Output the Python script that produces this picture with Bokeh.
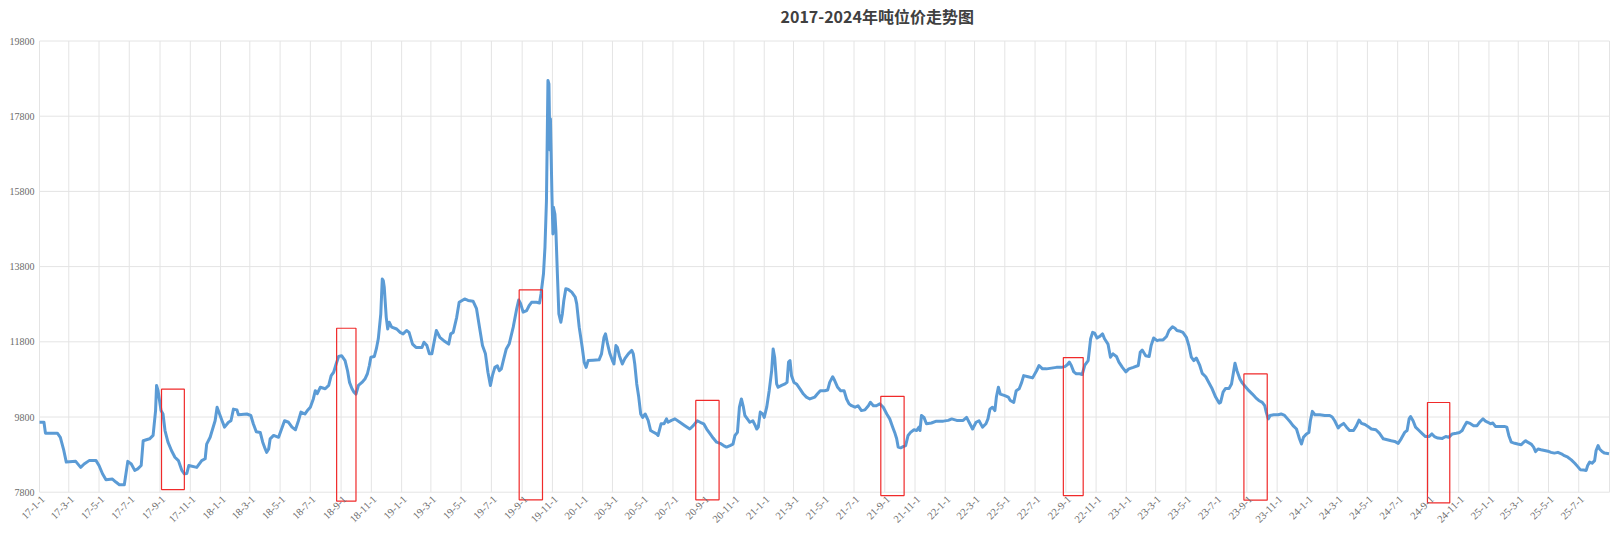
import pandas as pd
from bokeh.plotting import figure
from bokeh.models import BoxAnnotation, Range1d, LabelSet, Label, ColumnDataSource
from bokeh.embed import file_html
from bokeh.resources import INLINE

# ---------------- data ----------------
dates = [
    "2017-01-01", "2017-01-10", "2017-01-13", "2017-02-06", "2017-02-12", "2017-02-19", "2017-02-24",
    "2017-03-15", "2017-03-25", "2017-04-01", "2017-04-11", "2017-04-25", "2017-05-01", "2017-05-08",
    "2017-05-15", "2017-05-28", "2017-06-04", "2017-06-11", "2017-06-21", "2017-06-28", "2017-07-05",
    "2017-07-12", "2017-07-18", "2017-07-25", "2017-07-29", "2017-08-11", "2017-08-18", "2017-08-23",
    "2017-08-25", "2017-08-28", "2017-09-03", "2017-09-07", "2017-09-11", "2017-09-17", "2017-09-24",
    "2017-10-01", "2017-10-08", "2017-10-15", "2017-10-20", "2017-10-25", "2017-10-29", "2017-11-14",
    "2017-11-24", "2017-12-01", "2017-12-04", "2017-12-11", "2017-12-21", "2017-12-25", "2018-01-04",
    "2018-01-09", "2018-01-17", "2018-01-22", "2018-01-27", "2018-02-03", "2018-02-06", "2018-02-23",
    "2018-03-03", "2018-03-08", "2018-03-14", "2018-03-22", "2018-03-27", "2018-04-01", "2018-04-04",
    "2018-04-08", "2018-04-11", "2018-04-18", "2018-04-28", "2018-05-04", "2018-05-10", "2018-05-18",
    "2018-05-25", "2018-06-01", "2018-06-07", "2018-06-12", "2018-06-20", "2018-06-25", "2018-07-01",
    "2018-07-07", "2018-07-11", "2018-07-15", "2018-07-21", "2018-07-31", "2018-08-07", "2018-08-12",
    "2018-08-17", "2018-08-22", "2018-08-27", "2018-09-02", "2018-09-09", "2018-09-14", "2018-09-18",
    "2018-09-23", "2018-09-27", "2018-10-01", "2018-10-06", "2018-10-13", "2018-10-19", "2018-10-24",
    "2018-10-28", "2018-10-31", "2018-11-07", "2018-11-11", "2018-11-15", "2018-11-20", "2018-11-23",
    "2018-11-25", "2018-11-27", "2018-12-01", "2018-12-04", "2018-12-07", "2018-12-12", "2018-12-22",
    "2018-12-29", "2019-01-04", "2019-01-11", "2019-01-16", "2019-01-23", "2019-01-30", "2019-02-11",
    "2019-02-15", "2019-02-21", "2019-02-26", "2019-03-03", "2019-03-08", "2019-03-12", "2019-03-19",
    "2019-03-27", "2019-04-06", "2019-04-10", "2019-04-15", "2019-04-22", "2019-04-27", "2019-05-08",
    "2019-05-15", "2019-05-25", "2019-06-01", "2019-06-07", "2019-06-13", "2019-06-19", "2019-06-24",
    "2019-06-29", "2019-07-03", "2019-07-08", "2019-07-13", "2019-07-17", "2019-07-21", "2019-07-26",
    "2019-07-31", "2019-08-06", "2019-08-14", "2019-08-21", "2019-08-25", "2019-08-29", "2019-09-03",
    "2019-09-10", "2019-09-15", "2019-09-20", "2019-09-30", "2019-10-06", "2019-10-09", "2019-10-14",
    "2019-10-17", "2019-10-20", "2019-10-23", "2019-10-25", "2019-10-27", "2019-10-28", "2019-10-29",
    "2019-10-31", "2019-11-02", "2019-11-03", "2019-11-06", "2019-11-08", "2019-11-11", "2019-11-14",
    "2019-11-18", "2019-11-21", "2019-11-24", "2019-11-28", "2019-12-03", "2019-12-10", "2019-12-17",
    "2019-12-20", "2019-12-25", "2019-12-31", "2020-01-04", "2020-01-08", "2020-01-12", "2020-01-22",
    "2020-02-03", "2020-02-08", "2020-02-13", "2020-02-16", "2020-02-20", "2020-02-25", "2020-03-01",
    "2020-03-04", "2020-03-08", "2020-03-11", "2020-03-15", "2020-03-21", "2020-03-26", "2020-04-02",
    "2020-04-09", "2020-04-12", "2020-04-15", "2020-04-19", "2020-04-23", "2020-04-27", "2020-05-01",
    "2020-05-06", "2020-05-12", "2020-05-17", "2020-05-22", "2020-05-29", "2020-06-01", "2020-06-07",
    "2020-06-13", "2020-06-18", "2020-06-21", "2020-06-28", "2020-07-05", "2020-07-15", "2020-07-25",
    "2020-08-04", "2020-08-11", "2020-08-19", "2020-08-25", "2020-09-01", "2020-09-07", "2020-09-14",
    "2020-09-20", "2020-09-27", "2020-10-04", "2020-10-11", "2020-10-17", "2020-10-24", "2020-10-30",
    "2020-11-03", "2020-11-08", "2020-11-12", "2020-11-16", "2020-11-20", "2020-11-23", "2020-11-28",
    "2020-12-03", "2020-12-09", "2020-12-14", "2020-12-17", "2020-12-20", "2020-12-24", "2020-12-29",
    "2021-01-01", "2021-01-06", "2021-01-11", "2021-01-16", "2021-01-19", "2021-01-22", "2021-01-26",
    "2021-01-29", "2021-02-05", "2021-02-12", "2021-02-16", "2021-02-19", "2021-02-22", "2021-02-25",
    "2021-03-02", "2021-03-07", "2021-03-14", "2021-03-21", "2021-03-27", "2021-04-03", "2021-04-13",
    "2021-04-18", "2021-04-24", "2021-05-03", "2021-05-09", "2021-05-13", "2021-05-19", "2021-05-23",
    "2021-05-29", "2021-06-04", "2021-06-11", "2021-06-16", "2021-06-21", "2021-06-26", "2021-07-03",
    "2021-07-09", "2021-07-16", "2021-07-23", "2021-07-30", "2021-08-03", "2021-08-09", "2021-08-15",
    "2021-08-22", "2021-08-29", "2021-09-05", "2021-09-11", "2021-09-17", "2021-09-21", "2021-09-25",
    "2021-09-28", "2021-10-03", "2021-10-08", "2021-10-13", "2021-10-18", "2021-10-23", "2021-10-30",
    "2021-11-04", "2021-11-09", "2021-11-11", "2021-11-14", "2021-11-19", "2021-11-24", "2021-12-04",
    "2021-12-14", "2021-12-28", "2022-01-07", "2022-01-14", "2022-01-24", "2022-02-06", "2022-02-13",
    "2022-02-18", "2022-02-25", "2022-03-04", "2022-03-10", "2022-03-17", "2022-03-24", "2022-03-28",
    "2022-04-01", "2022-04-06", "2022-04-11", "2022-04-14", "2022-04-18", "2022-04-22", "2022-05-01",
    "2022-05-08", "2022-05-12", "2022-05-19", "2022-05-24", "2022-05-30", "2022-06-04", "2022-06-08",
    "2022-06-17", "2022-06-26", "2022-07-04", "2022-07-09", "2022-07-16", "2022-07-24", "2022-08-03",
    "2022-08-13", "2022-08-23", "2022-08-30", "2022-09-04", "2022-09-08", "2022-09-12", "2022-09-17",
    "2022-09-22", "2022-09-29", "2022-10-04", "2022-10-09", "2022-10-16", "2022-10-21", "2022-10-25",
    "2022-10-29", "2022-11-03", "2022-11-08", "2022-11-14", "2022-11-18", "2022-11-25", "2022-11-30",
    "2022-12-05", "2022-12-12", "2022-12-17", "2022-12-24", "2022-12-31", "2023-01-06", "2023-01-15",
    "2023-01-25", "2023-01-29", "2023-02-02", "2023-02-09", "2023-02-16", "2023-02-20", "2023-02-25",
    "2023-03-04", "2023-03-09", "2023-03-16", "2023-03-23", "2023-03-28", "2023-04-04", "2023-04-09",
    "2023-04-13", "2023-04-20", "2023-04-25", "2023-05-02", "2023-05-07", "2023-05-12", "2023-05-17",
    "2023-05-22", "2023-05-29", "2023-06-03", "2023-06-10", "2023-06-17", "2023-06-23", "2023-06-30",
    "2023-07-07", "2023-07-10", "2023-07-15", "2023-07-20", "2023-07-27", "2023-08-01", "2023-08-05",
    "2023-08-08", "2023-08-12", "2023-08-18", "2023-08-23", "2023-08-30", "2023-09-05", "2023-09-12",
    "2023-09-19", "2023-09-25", "2023-10-02", "2023-10-07", "2023-10-10", "2023-10-14", "2023-10-18",
    "2023-10-25", "2023-11-03", "2023-11-09", "2023-11-16", "2023-11-22", "2023-11-28", "2023-12-03",
    "2023-12-10", "2023-12-13", "2023-12-16", "2023-12-20", "2023-12-24", "2023-12-30", "2024-01-04",
    "2024-01-07", "2024-01-11", "2024-01-16", "2024-01-26", "2024-02-05", "2024-02-15", "2024-02-20",
    "2024-02-25", "2024-03-03", "2024-03-07", "2024-03-14", "2024-03-20", "2024-03-26", "2024-04-03",
    "2024-04-09", "2024-04-14", "2024-04-19", "2024-04-26", "2024-05-02", "2024-05-09", "2024-05-18",
    "2024-05-25", "2024-06-02", "2024-06-12", "2024-06-18", "2024-06-25", "2024-07-02", "2024-07-08",
    "2024-07-15", "2024-07-20", "2024-07-24", "2024-07-27", "2024-08-01", "2024-08-06", "2024-08-13",
    "2024-08-20", "2024-08-26", "2024-09-02", "2024-09-08", "2024-09-13", "2024-09-20", "2024-09-29",
    "2024-10-06", "2024-10-12", "2024-10-19", "2024-10-27", "2024-11-03", "2024-11-08", "2024-11-13",
    "2024-11-17", "2024-11-24", "2024-12-01", "2024-12-08", "2024-12-13", "2024-12-20", "2024-12-25",
    "2024-12-30", "2025-01-04", "2025-01-09", "2025-01-14", "2025-01-22", "2025-02-01", "2025-02-06",
    "2025-02-10", "2025-02-15", "2025-02-22", "2025-02-28", "2025-03-07", "2025-03-12", "2025-03-16",
    "2025-03-20", "2025-03-27", "2025-04-01", "2025-04-05", "2025-04-10", "2025-04-16", "2025-04-23",
    "2025-04-30", "2025-05-06", "2025-05-13", "2025-05-20", "2025-05-27", "2025-06-02", "2025-06-09",
    "2025-06-16", "2025-06-23", "2025-06-29", "2025-07-04", "2025-07-11", "2025-07-16", "2025-07-19",
    "2025-07-23", "2025-07-28", "2025-08-02", "2025-08-05", "2025-08-09", "2025-08-12", "2025-08-17",
    "2025-08-22", "2025-08-31",
]
prices = [
    9660, 9660, 9370, 9370, 9260, 8910, 8600,
    8620, 8460, 8550, 8640, 8640, 8510, 8290,
    8130, 8150, 8070, 8000, 8000, 8620, 8550,
    8380, 8420, 8510, 9170, 9220, 9310, 9970,
    10640, 10500, 9970, 9880, 9440, 9130, 8910,
    8730, 8640, 8380, 8290, 8300, 8510, 8460,
    8640, 8690, 9080, 9260, 9700, 10060, 9700,
    9530, 9660, 9700, 10010, 9990, 9860, 9880,
    9840, 9620, 9410, 9390, 9130, 8950, 8860,
    8950, 9220, 9310, 9260, 9480, 9700, 9660,
    9530, 9460, 9700, 9930, 9880, 9970, 10060,
    10280, 10500, 10420, 10590, 10550, 10640, 10900,
    10990, 11210, 11410, 11430, 11300, 11030, 10720,
    10550, 10460, 10410, 10640, 10720, 10810, 10950,
    11170, 11390, 11410, 11610, 11880, 12540, 13470,
    13430, 13250, 12450, 12140, 12320, 12190, 12140,
    12050, 12010, 12100, 12050, 11740, 11650, 11650,
    11790, 11700, 11480, 11480, 11830, 12100, 11920,
    11830, 11740, 12010, 12050, 12450, 12850, 12940,
    12900, 12880, 12680, 12190, 11700, 11480, 10990,
    10640, 10900, 11120, 11160, 11030, 11080, 11350,
    11610, 11750, 12190, 12680, 12910, 12810, 12590,
    12630, 12760, 12850, 12850, 12830, 13070, 13610,
    14320, 15560, 18750, 18660, 16900, 17730, 17070,
    15730, 14670, 15380, 15200, 14760, 13610, 12540,
    12320, 12540, 12900, 13210, 13190, 13120, 12990,
    12810, 12190, 11660, 11260, 11120, 11300, 11310,
    11320, 11480, 11920, 12010, 11750, 11480, 11300,
    11210, 11700, 11650, 11430, 11210, 11350, 11480,
    11570, 11480, 11210, 10680, 10330, 9880, 9790,
    9880, 9710, 9440, 9400, 9350, 9310, 9620,
    9620, 9750, 9660, 9710, 9750, 9660, 9570,
    9480, 9570, 9700, 9660, 9620, 9480, 9350,
    9240, 9130, 9100, 9040, 9000, 9040, 9080,
    9310, 9390, 10060, 10280, 10060, 9840, 9750,
    9660, 9700, 9570, 9480, 9530, 9930, 9880,
    9790, 10060, 10500, 11030, 11610, 11390, 10680,
    10590, 10640, 10680, 10720, 11260, 11300, 10900,
    10720, 10680, 10550, 10410, 10330, 10280, 10330,
    10410, 10500, 10500, 10520, 10720, 10870, 10770,
    10590, 10500, 10500, 10280, 10150, 10100, 10060,
    10100, 9970, 9990, 10100, 10190, 10100, 10100,
    10150, 10060, 9880, 9750, 9530, 9390, 9220,
    9000, 8980, 9010, 9040, 9310, 9390, 9460,
    9440, 9530, 9440, 9840, 9790, 9620, 9640,
    9690, 9690, 9710, 9750, 9710, 9710, 9790,
    9660, 9480, 9660, 9700, 9530, 9620, 9750,
    10010, 10060, 9970, 10330, 10590, 10410, 10370,
    10330, 10240, 10190, 10500, 10550, 10720, 10900,
    10870, 10840, 11030, 11170, 11080, 11080, 11100,
    11120, 11120, 11140, 11190, 11260, 11170, 11000,
    10950, 10950, 10930, 11170, 11300, 11880, 12050,
    12030, 11900, 11940, 12010, 11880, 11740, 11390,
    11480, 11410, 11260, 11120, 11000, 11080, 11120,
    11170, 11520, 11580, 11430, 11410, 11700, 11900,
    11830, 11850, 11850, 11940, 12100, 12200, 12160,
    12100, 12080, 12050, 11920, 11700, 11390, 11300,
    11370, 11170, 10960, 10870, 10700, 10550, 10330,
    10170, 10190, 10460, 10560, 10560, 10680, 10990,
    11230, 11030, 10810, 10700, 10590, 10500, 10410,
    10310, 10240, 10190, 10100, 9930, 9750, 9840,
    9860, 9860, 9880, 9840, 9750, 9660, 9570,
    9480, 9350, 9220, 9080, 9260, 9350, 9390,
    9700, 9950, 9860, 9860, 9840, 9840, 9800,
    9700, 9510, 9570, 9630, 9530, 9440, 9440,
    9570, 9720, 9630, 9600, 9550, 9480, 9460,
    9370, 9220, 9190, 9170, 9150, 9100, 9220,
    9390, 9440, 9750, 9810, 9700, 9530, 9440,
    9350, 9280, 9280, 9350, 9280, 9240, 9230,
    9280, 9260, 9350, 9370, 9390, 9440, 9570,
    9660, 9630, 9570, 9570, 9660, 9750, 9690,
    9660, 9620, 9640, 9550, 9550, 9550, 9530,
    9310, 9130, 9100, 9080, 9060, 9130, 9170,
    9130, 9080, 9000, 8880, 8950, 8930, 8910,
    8890, 8860, 8840, 8860, 8820, 8770, 8730,
    8660, 8570, 8480, 8400, 8390, 8380, 8510,
    8600, 8570, 8640, 8910, 9040, 8950, 8880,
    8840, 8820,
]

# highlighted windows (red boxes)
box_start = ["2017-09-04", "2018-08-23", "2019-08-26", "2020-08-16",
             "2021-08-24", "2022-08-27", "2023-08-26", "2024-08-30"]
box_end = ["2017-10-20", "2018-10-01", "2019-10-12", "2020-10-02",
           "2021-10-10", "2022-10-06", "2023-10-12", "2024-10-14"]
box_top = [10540, 12160, 13180, 10240, 10350, 11380, 10945, 10185]
box_bottom = [7870, 7560, 7596, 7596, 7711, 7711, 7587, 7516]

tick_labels = [f"{yy}-{mm}-1" for yy in range(17, 26) for mm in (1, 3, 5, 7, 9, 11)
               if not (yy == 25 and mm > 7)]
y_ticks = [7800, 9800, 11800, 13800, 15800, 17800, 19800]
x_start_date = "2017-01-01"
x_end_date = "2025-09-01"
title_text = "2017-2024年吨位价走势图"

# ---------------- layout (pixels) ----------------
W, H = 1617, 534
plot_left, plot_right = 39, 1609     # value area inside the canvas
plot_top, plot_bottom = 40.5, 491.7

# ---------------- build ----------------
base = pd.Timestamp(x_start_date)


def day(d):
    return (pd.Timestamp(d) - base).days


def label_to_date(lbl):
    yy, mm, dd = lbl.split("-")
    return f"20{yy}-{int(mm):02d}-{int(dd):02d}"


xs = [day(d) for d in dates]
tick_pos = [day(label_to_date(l)) for l in tick_labels]
x_end = day(x_end_date)
grid_x = tick_pos + [x_end]

# ranges chosen so the value area sits where it does in the picture
x_per_px = x_end / (plot_right - plot_left)
y_per_px = (y_ticks[-1] - y_ticks[0]) / (plot_bottom - plot_top)
x_rng = Range1d(-plot_left * x_per_px, x_end + (W - plot_right) * x_per_px)
y_rng = Range1d(y_ticks[0] - (H - plot_bottom) * y_per_px, y_ticks[-1] + plot_top * y_per_px)

p = figure(width=W, height=H, output_backend="svg", toolbar_location=None,
           x_range=x_rng, y_range=y_rng,
           min_border_left=0, min_border_right=0, min_border_top=0, min_border_bottom=0)
p.xaxis.visible = False
p.yaxis.visible = False
p.xgrid.visible = False
p.ygrid.visible = False
p.outline_line_color = None
p.background_fill_color = "white"
p.border_fill_color = "white"

grid_color = "#e4e4e4"
# horizontal grid lines over the date span, vertical ones over the value span
p.segment(x0=[0] * len(y_ticks), y0=y_ticks, x1=[x_end] * len(y_ticks), y1=y_ticks,
          line_color=grid_color, line_width=1)
p.segment(x0=grid_x, y0=[y_ticks[0]] * len(grid_x), x1=grid_x,
          y1=[y_ticks[-1]] * len(grid_x), line_color=grid_color, line_width=1)

p.line(xs, prices, line_color="#5b9bd5", line_width=3, line_join="round")

for s, e, t, b in zip(box_start, box_end, box_top, box_bottom):
    p.add_layout(BoxAnnotation(left=day(s), right=day(e), top=t, bottom=b,
                               fill_color=None, line_color="#f02a2a", line_alpha=1.0,
                               line_width=1.2))

# tick labels
label_color = "#6b6b6b"
xlab = ColumnDataSource(dict(x=tick_pos, y=[y_ticks[0]] * len(tick_pos), text=tick_labels))
p.add_layout(LabelSet(x="x", y="y", text="text", source=xlab, angle=0.785,
                      text_align="right", text_baseline="top", x_offset=1, y_offset=-3,
                      text_font="Liberation Sans", text_font_size="10.5px", text_color=label_color))
ylab = ColumnDataSource(dict(y=y_ticks, text=[str(v) for v in y_ticks]))
p.add_layout(LabelSet(x=plot_left - 5, x_units="screen", y="y", text="text", source=ylab,
                      text_align="right", text_baseline="middle",
                      text_font="Liberation Sans", text_font_size="10px", text_color=label_color))

# title
p.add_layout(Label(x=780, y=H - 15, x_units="screen", y_units="screen", text=title_text,
                   text_align="left", text_baseline="middle", text_font="Noto Sans CJK SC",
                   text_font_size="16px", text_font_style="bold", text_color="#404040"))

open("out.html", "w").write(file_html(p, INLINE))
